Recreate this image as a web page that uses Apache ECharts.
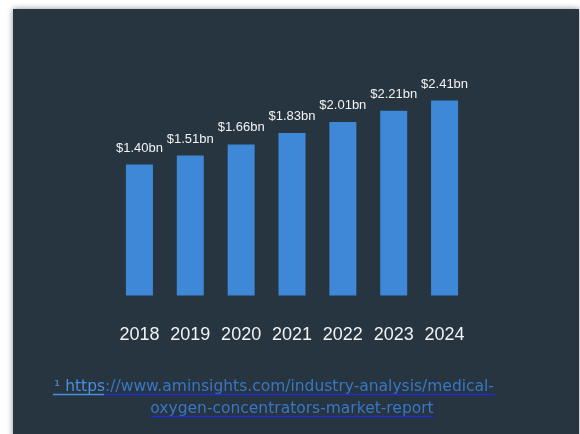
<!DOCTYPE html>
<html><head><meta charset="utf-8">
<script src="https://cdn.jsdelivr.net/npm/echarts@6/dist/echarts.min.js"></script>
<style>html,body{margin:0;padding:0;background:#fff;}#c{width:580px;height:434px;}</style>
</head><body><div id="c"></div>
<script>
const years = ['2018','2019','2020','2021','2022','2023','2024'];
const marketSize = [1.40, 1.51, 1.66, 1.83, 2.01, 2.21, 2.41];
const valueLabels = ['$1.40bn','$1.51bn','$1.66bn','$1.83bn','$2.01bn','$2.21bn','$2.41bn'];
const footLink1a = '\u00b9 https';
const footLink1b = '://www.aminsights.com/industry-analysis/medical-';
const footLine2 = 'oxygen-concentrators-market-report';

const chart = echarts.init(document.getElementById('c'));
chart.setOption({
  backgroundColor: '#ffffff',
  animation: false,
  grid: { left: 114, right: 110, top: 60, bottom: 138.5, containLabel: false },
  xAxis: {
    type: 'category', data: years,
    axisLine: { show: false }, axisTick: { show: false },
    axisLabel: { interval: 0, color: '#f2f2f2', fontSize: 18, fontFamily: 'Liberation Sans', margin: 31 }
  },
  yAxis: {
    type: 'log', logBase: 10, min: 0.46, max: 3.40, startValue: 0.46,
    show: false, splitLine: { show: false }
  },
  graphic: [
    { type: 'rect', z: -10, shape: { x: 13, y: 9, width: 566, height: 430 },
      style: { fill: '#26353f', shadowBlur: 6, shadowColor: 'rgba(0,0,0,0.45)' } },
    { type: 'text', z: 10, style: { x: 274, y: 387, text: '{a|' + footLink1a + '}{b|' + footLink1b + '}',
      align: 'center', verticalAlign: 'middle',
      rich: {
        a: { fill: '#4a8fe0', font: '15.5px "DejaVu Sans"' },
        b: { fill: '#3a76c4', font: '15.5px "DejaVu Sans"' }
      } } },
    { type: 'text', z: 10, style: { x: 292, y: 409, text: footLine2, align: 'center', verticalAlign: 'middle',
      fill: '#3a76c4', font: '15.5px "DejaVu Sans"' } },
    { type: 'line', z: 10, shape: { x1: 53, y1: 394.5, x2: 104, y2: 394.5 }, style: { stroke: '#4a8fe0', lineWidth: 1.5 } },
    { type: 'line', z: 10, shape: { x1: 104, y1: 394.5, x2: 495, y2: 394.5 }, style: { stroke: '#1f2fd0', lineWidth: 1.5 } },
    { type: 'line', z: 10, shape: { x1: 151, y1: 416.5, x2: 433, y2: 416.5 }, style: { stroke: '#1f2fd0', lineWidth: 1.5 } }
  ],
  series: [{
    type: 'bar', data: marketSize, barWidth: 27,
    itemStyle: { color: '#3f88d8' },
    label: {
      show: true, position: 'top', distance: 10, color: '#f2f2f2', fontSize: 13, fontFamily: 'Liberation Sans',
      formatter: p => valueLabels[p.dataIndex]
    }
  }]
});
</script></body></html>
